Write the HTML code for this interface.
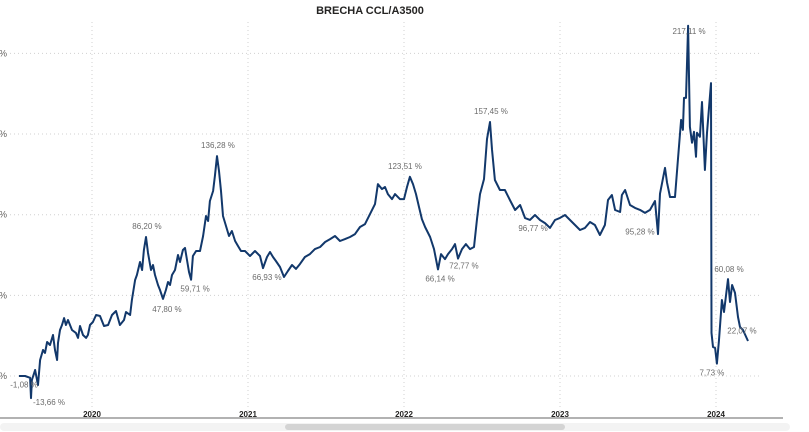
<!DOCTYPE html>
<html><head><meta charset="utf-8"><style>
html,body{margin:0;padding:0;background:#fff;}
svg{display:block;font-family:"Liberation Sans",sans-serif;}
</style></head><body>
<svg id="chart" width="809" height="432">
<text x="370" y="14" text-anchor="middle" font-size="11" font-weight="bold" fill="#252423">BRECHA CCL/A3500</text>
<g id="grid"></g><g id="series"></g><g id="labels"></g>
<line x1="0" y1="418" x2="783" y2="418" stroke="#666" stroke-width="1"/>
<rect x="0" y="423" width="790" height="8" rx="4" fill="#f3f3f3"/>
<rect x="285" y="424" width="280" height="6" rx="3" fill="#d4d4d4"/>
</svg>
<script>
const dates=[2019.532,2019.571,2019.603,2019.609,2019.615,2019.635,2019.654,2019.667,2019.686,2019.699,2019.712,2019.731,2019.750,2019.763,2019.776,2019.782,2019.795,2019.808,2019.821,2019.833,2019.846,2019.872,2019.897,2019.910,2019.923,2019.942,2019.962,2019.974,2019.987,2020.006,2020.026,2020.051,2020.077,2020.103,2020.128,2020.154,2020.179,2020.205,2020.218,2020.244,2020.256,2020.276,2020.288,2020.308,2020.321,2020.333,2020.346,2020.359,2020.378,2020.391,2020.404,2020.423,2020.436,2020.455,2020.474,2020.487,2020.500,2020.513,2020.532,2020.551,2020.564,2020.583,2020.596,2020.609,2020.622,2020.635,2020.647,2020.667,2020.692,2020.712,2020.731,2020.744,2020.756,2020.776,2020.788,2020.801,2020.814,2020.827,2020.840,2020.859,2020.878,2020.897,2020.917,2020.936,2020.955,2020.981,2021.013,2021.045,2021.077,2021.096,2021.122,2021.141,2021.160,2021.179,2021.205,2021.231,2021.256,2021.282,2021.308,2021.333,2021.365,2021.397,2021.429,2021.462,2021.494,2021.526,2021.558,2021.590,2021.622,2021.654,2021.686,2021.718,2021.750,2021.782,2021.814,2021.833,2021.859,2021.878,2021.897,2021.923,2021.942,2021.974,2022.000,2022.019,2022.038,2022.058,2022.077,2022.096,2022.115,2022.135,2022.167,2022.192,2022.218,2022.237,2022.263,2022.282,2022.308,2022.327,2022.346,2022.372,2022.397,2022.423,2022.449,2022.468,2022.487,2022.513,2022.532,2022.551,2022.564,2022.583,2022.615,2022.647,2022.679,2022.712,2022.744,2022.776,2022.808,2022.840,2022.872,2022.904,2022.936,2022.968,2023.000,2023.032,2023.064,2023.096,2023.128,2023.160,2023.192,2023.224,2023.256,2023.288,2023.308,2023.333,2023.353,2023.385,2023.397,2023.417,2023.449,2023.481,2023.513,2023.545,2023.577,2023.609,2023.628,2023.641,2023.673,2023.686,2023.705,2023.737,2023.756,2023.776,2023.788,2023.795,2023.808,2023.821,2023.833,2023.846,2023.859,2023.872,2023.878,2023.897,2023.910,2023.929,2023.942,2023.968,2023.971,2023.981,2023.994,2024.006,2024.019,2024.038,2024.051,2024.077,2024.090,2024.103,2024.122,2024.141,2024.154,2024.173,2024.205];
const values=[0,0,-1.1,-13.7,-2.5,3.7,-5.6,9.9,16.1,14.3,21.1,19.2,25.4,16.1,9.9,20.5,28.5,31.6,35.9,31.6,34.7,28.5,26.7,23.6,31.0,25.4,23.6,25.4,31.6,33.5,37.8,37.2,31.0,31.6,37.8,40.3,31.6,34.7,39.7,37.8,47.1,59.5,62.6,70.7,65.7,78.1,86.2,76.3,65.7,68.8,62.6,56.4,53.3,47.8,53.3,58.3,56.4,62.6,65.7,75.0,70.7,78.1,79.4,71.9,64.5,59.7,74.4,77.5,77.5,86.8,99.2,96.1,108.5,114.7,124.0,136.3,127.1,114.7,99.2,93.0,86.8,89.9,83.7,80.6,77.5,77.5,74.4,77.5,74.4,66.9,73.8,76.9,73.8,71.3,67.6,61.4,65.1,68.8,66.4,69.4,73.8,75.6,78.7,80.0,83.1,84.9,86.8,83.7,84.9,86.2,88.0,92.4,94.2,100.4,106.6,119.0,115.9,117.2,112.8,109.7,112.8,109.7,109.7,117.2,123.5,119.0,112.8,104.8,97.3,92.4,86.2,78.7,66.1,75.6,72.5,75.6,78.7,81.8,72.8,78.7,81.8,78.7,80.0,97.3,112.8,122.1,146.9,157.5,140.4,121.5,115.3,115.3,109.1,102.9,106.0,97.9,96.8,99.8,96.7,94.8,91.8,96.7,98.0,99.8,96.7,93.6,90.5,91.8,95.5,93.6,87.4,93.6,109.1,112.2,102.9,101.7,112.2,115.3,106.0,104.2,103.0,101.1,103.0,108.5,88.0,113.0,129.0,120.0,111.0,111.0,134.0,158.8,152.6,172.4,172.4,217.1,154.5,144.6,151.4,135.9,150.8,148.3,169.9,127.7,150.8,181.6,26.7,18.0,17.4,7.7,22.3,47.1,39.7,60.1,45.9,56.4,51.5,36.6,30.4,28.5,21.7];
const yTicks=[0,50,100,150,200];
const xTicks=[2020,2021,2022,2023,2024];
const annDates=[2019.603,2019.609,2020.346,2020.455,2020.635,2020.801,2021.096,2022.038,2022.218,2022.346,2022.551,2022.808,2023.628,2023.821,2024.077,2024.205,2024.006];
const annText=["-1,08 %","-13,66 %","86,20 %","47,80 %","59,71 %","136,28 %","66,93 %","123,51 %","66,14 %","72,77 %","157,45 %","96,77 %","95,28 %","217,11 %","60,08 %","22,07 %","7,73 %"];
const annVals=[-1.08,-13.66,86.20,47.80,59.71,136.28,66.93,123.51,66.14,72.77,157.45,96.77,95.28,217.11,60.08,22.07,7.73];
const annDx=[-6,18,1,4,4,1,4,-5,2,6,1,3,-18,1,1,-6,-5];
const annDy=[10,7,-8,13,12,-8,12,-8,12,10,-8,11,12,8,-7,-7,12];
const X=t=>92+(t-2020)*156;
const Y=v=>376-v*1.613;
const NS="http://www.w3.org/2000/svg";
const mk=(tag,attrs,parent)=>{const e=document.createElementNS(NS,tag);for(const k in attrs)e.setAttribute(k,attrs[k]);parent.appendChild(e);return e;};
const grid=document.getElementById('grid');
yTicks.forEach(v=>{
  const l=mk('line',{x1:10,x2:760,y1:Y(v),y2:Y(v),stroke:'#d0d0d0','stroke-dasharray':'1,3'},grid);
  
  
  const t=mk('text',{x:7,y:Y(v)+3,'font-size':'9','text-anchor':'end',fill:'#605e5c'},grid);
  t.textContent=v+' %';
  
  
});
xTicks.forEach(yr=>{
  const l=mk('line',{x1:X(yr),x2:X(yr),y1:22,y2:418,stroke:'#d0d0d0','stroke-dasharray':'1,3'},grid);
  
  
  const t=mk('text',{x:X(yr),y:417,'font-size':'8','font-weight':'bold','text-anchor':'middle',fill:'#252423'},grid);
  t.textContent=yr;
  
  
});
const d=dates.map((t,i)=>(i?'L':'M')+X(t).toFixed(1)+','+Y(values[i]).toFixed(1)).join('');
const p=mk('path',{d:d,fill:'none',stroke:'#12386b','stroke-width':'2','stroke-linejoin':'round'},document.getElementById('series'));


const lg=document.getElementById('labels');
annText.forEach((s,i)=>{
  const t=mk('text',{x:X(annDates[i])+annDx[i],y:Y(annVals[i])+annDy[i],'font-size':'8','text-anchor':'middle',fill:'#6b6b6b'},lg);
  t.textContent=s;
  
  
});
</script>
</body></html>
